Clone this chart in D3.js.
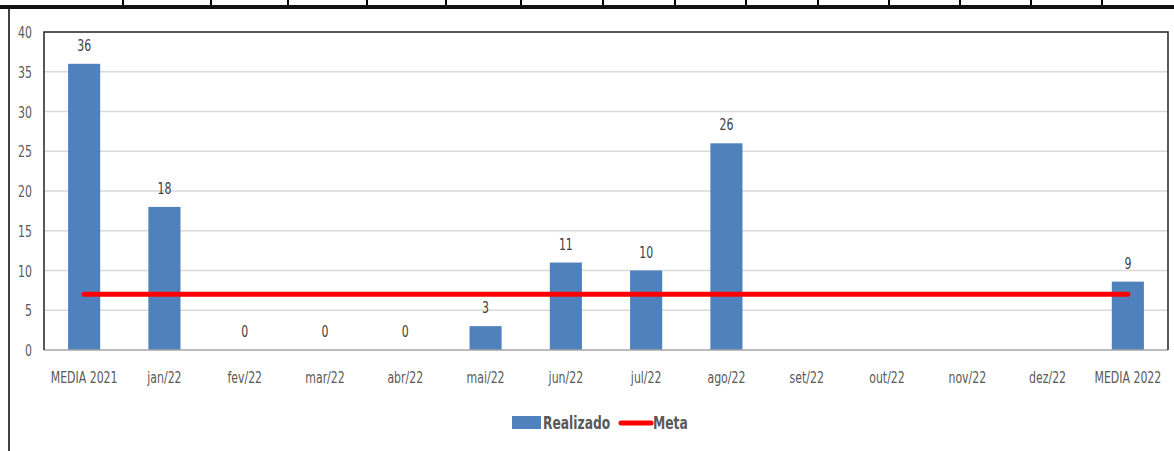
<!DOCTYPE html>
<html>
<head>
<meta charset="utf-8">
<script src="https://d3js.org/d3.v7.min.js"></script>
<style>
  body { margin: 0; background: #fff; }
  svg text { font-family: "Liberation Sans Narrow", "DejaVu Sans Condensed", "Open Sans", sans-serif; }
</style>
</head>
<body>
<svg width="1174" height="451"></svg>
<script>
  // chart data
  var categories = ["MEDIA 2021","jan/22","fev/22","mar/22","abr/22","mai/22","jun/22","jul/22","ago/22","set/22","out/22","nov/22","dez/22","MEDIA 2022"];
  var realizado = [36, 18, 0, 0, 0, 3, 11, 10, 26, null, null, null, null, 8.6];
  var labels = ["36","18","0","0","0","3","11","10","26","","","","","9"];
  var meta = [7, 7, 7, 7, 7, 7, 7, 7, 7, 7, 7, 7, 7, 7];
  var yTicks = [0, 5, 10, 15, 20, 25, 30, 35, 40];
  var sheetCols = [123, 211, 288, 367, 446, 521, 603, 675, 746, 818, 889, 960, 1031, 1102];

  var svg = d3.select("svg");
  var pLeft = 44, pRight = 1168, pTop = 32, pBottom = 350;
  var squeeze = 0.76; // narrow the text like the original font

  function place(sel, fx, fy) {
    sel.attr("transform", function(d, i){ return "translate(" + fx(d, i) + "," + fy(d, i) + ") scale(" + squeeze + ",1)"; });
  }

  // spreadsheet cells above the chart
  svg.selectAll("line.cell").data(sheetCols).enter().append("line")
    .attr("x1", function(d){ return d; }).attr("x2", function(d){ return d; })
    .attr("y1", 0).attr("y2", 6)
    .attr("stroke", "#000").attr("stroke-width", 2);
  svg.append("line").attr("x1", 0).attr("x2", 1174).attr("y1", 7).attr("y2", 7)
    .attr("stroke", "#111").attr("stroke-width", 4);
  svg.append("line").attr("x1", 9).attr("x2", 9).attr("y1", 9).attr("y2", 451)
    .attr("stroke", "#000").attr("stroke-width", 1.5);

  var x = d3.scaleBand().domain(categories).range([pLeft, pRight]).paddingInner(0.6).paddingOuter(0.3);
  var y = d3.scaleLinear().domain([0, 40]).range([pBottom, pTop]);

  // gridlines
  svg.append("g").selectAll("line").data(yTicks.slice(1, -1)).enter().append("line")
    .attr("x1", pLeft).attr("x2", pRight)
    .attr("y1", function(d){ return y(d); }).attr("y2", function(d){ return y(d); })
    .attr("stroke", "#d9d9d9").attr("stroke-width", 1.5);

  // y labels
  svg.append("g").selectAll("text").data(yTicks).enter().append("text")
    .call(place, function(){ return 32; }, function(d){ return y(d) + 6; })
    .attr("text-anchor", "end").attr("font-size", 16).attr("fill", "#595959")
    .text(function(d){ return d; });

  // bars
  var barData = categories.map(function(c, i){ return { cat: c, v: realizado[i], label: labels[i] }; });
  svg.append("g").selectAll("rect").data(barData.filter(function(d){ return d.v !== null; })).enter().append("rect")
    .attr("x", function(d){ return x(d.cat); })
    .attr("width", x.bandwidth())
    .attr("y", function(d){ return y(d.v); })
    .attr("height", function(d){ return pBottom - y(d.v); })
    .attr("fill", "#4f81bd");

  // data labels
  svg.append("g").selectAll("text").data(barData).enter().append("text")
    .call(place, function(d){ return x(d.cat) + x.bandwidth() / 2; }, function(d){ return y(d.v || 0) - 13; })
    .attr("text-anchor", "middle").attr("font-size", 16).attr("fill", "#404040")
    .text(function(d){ return d.label; });

  // meta line
  var line = d3.line()
    .x(function(d, i){ return x(categories[i]) + x.bandwidth() / 2; })
    .y(function(d){ return y(d); });
  svg.append("path").datum(meta).attr("d", line)
    .attr("fill", "none").attr("stroke", "#ff0000").attr("stroke-width", 5).attr("stroke-linecap", "round");

  // axes borders
  svg.append("line").attr("x1", pLeft).attr("x2", pRight).attr("y1", pBottom).attr("y2", pBottom)
    .attr("stroke", "#a6a6a6").attr("stroke-width", 1.5);
  svg.append("polyline")
    .attr("points", [[pLeft, pBottom], [pLeft, pTop], [pRight, pTop], [pRight, pBottom]].join(" "))
    .attr("fill", "none").attr("stroke", "#222").attr("stroke-width", 1.5);

  // x labels
  svg.append("g").selectAll("text").data(categories).enter().append("text")
    .call(place, function(d){ return x(d) + x.bandwidth() / 2; }, function(){ return 383; })
    .attr("text-anchor", "middle").attr("font-size", 16).attr("fill", "#595959")
    .text(function(d){ return d; });

  // legend
  var lg = svg.append("g");
  lg.append("rect").attr("x", 512).attr("y", 416).attr("width", 29).attr("height", 13).attr("fill", "#4f81bd");
  lg.append("text").attr("transform", "translate(543,429) scale(" + squeeze + ",1)")
    .attr("font-size", 18).attr("font-weight", "bold").attr("fill", "#595959").text("Realizado");
  lg.append("line").attr("x1", 621).attr("x2", 651).attr("y1", 423).attr("y2", 423)
    .attr("stroke", "#ff0000").attr("stroke-width", 5).attr("stroke-linecap", "round");
  lg.append("text").attr("transform", "translate(653,429) scale(" + squeeze + ",1)")
    .attr("font-size", 18).attr("font-weight", "bold").attr("fill", "#595959").text("Meta");
</script>
</body>
</html>
